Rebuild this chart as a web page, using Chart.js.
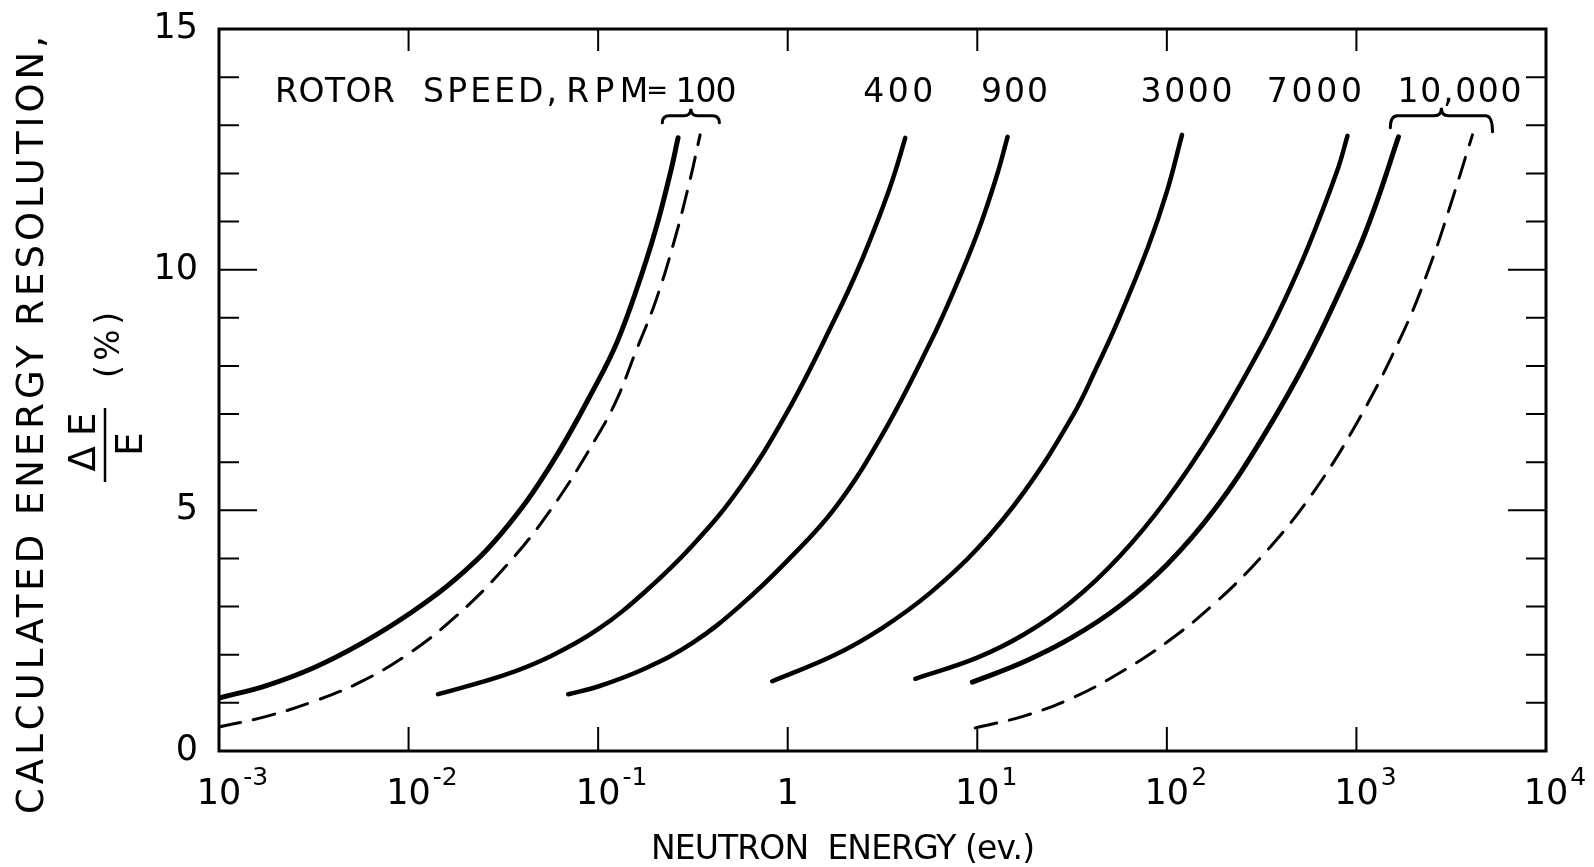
<!DOCTYPE html>
<html>
<head>
<meta charset="utf-8">
<script src="https://cdn.jsdelivr.net/npm/chart.js@4.4.1/dist/chart.umd.min.js"></script>
<style>
  html, body { margin: 0; padding: 0; background: #fff; }
  canvas { display: block; }
</style>
</head>
<body>
<canvas id="chart" width="1594" height="867"></canvas>
<script>
// neutron energy (eV) and resolution (%)
var rpm100E = [0.001, 0.00178, 0.00316, 0.00562, 0.01, 0.0178, 0.0316, 0.0562, 0.1, 0.126, 0.158, 0.2, 0.24, 0.264];
var rpm100Res = [1.10, 1.36, 1.73, 2.23, 2.84, 3.58, 4.57, 5.94, 7.69, 8.50, 9.54, 10.80, 12.00, 12.74];

var rpm100DashE = [0.001, 0.00178, 0.00316, 0.00562, 0.01, 0.0178, 0.0316, 0.0562, 0.1, 0.126, 0.158, 0.2, 0.251, 0.305, 0.345];
var rpm100DashRes = [0.50, 0.72, 1.03, 1.44, 2.02, 2.80, 3.78, 5.01, 6.57, 7.32, 8.30, 9.32, 10.57, 11.86, 12.80];

var rpm400E = [0.0143, 0.0316, 0.0562, 0.1, 0.178, 0.316, 0.562, 1.0, 1.778, 2.371, 3.162, 3.63, 4.17];
var rpm400Res = [1.18, 1.57, 1.97, 2.53, 3.32, 4.28, 5.48, 7.06, 8.99, 10.05, 11.28, 11.95, 12.74];

var rpm900E = [0.0695, 0.1, 0.178, 0.316, 0.562, 1.0, 1.778, 3.162, 5.623, 7.50, 10, 12.6, 14.45];
var rpm900Res = [1.18, 1.34, 1.72, 2.25, 3.02, 3.96, 5.05, 6.58, 8.47, 9.55, 10.75, 11.92, 12.76];

var rpm3000E = [0.828, 1.778, 3.162, 5.623, 10, 17.78, 31.62, 42.17, 56.23, 79.4, 100, 120.2];
var rpm3000Res = [1.45, 2.00, 2.56, 3.28, 4.20, 5.40, 6.94, 7.93, 9.01, 10.46, 11.62, 12.80];

var rpm7000E = [4.71, 10, 17.78, 31.62, 56.23, 100, 177.8, 316.2, 421.7, 562.3, 794, 897];
var rpm7000Res = [1.50, 1.94, 2.43, 3.11, 4.04, 5.23, 6.69, 8.41, 9.40, 10.52, 12.07, 12.78];

var rpm10000E = [9.42, 17.78, 31.62, 56.23, 100, 177.8, 316.2, 562.3, 1000, 1259, 1667];
var rpm10000Res = [1.43, 1.86, 2.36, 3.01, 3.87, 5.01, 6.48, 8.22, 10.32, 11.33, 12.76];

var rpm10000DashE = [9.75, 17.78, 31.62, 56.23, 100, 177.8, 316.2, 562.3, 1000, 1778, 2512, 3162, 4093];
var rpm10000DashRes = [0.48, 0.73, 1.10, 1.62, 2.26, 3.06, 4.04, 5.25, 6.80, 8.73, 10.21, 11.39, 12.80];

// axes
var xTicks = [1e-3, 1e-2, 1e-1, 1, 1e1, 1e2, 1e3, 1e4];
var xTickBase = ['10', '10', '10', '1', '10', '10', '10', '10'];
var xTickExp = ['-3', '-2', '-1', '', '1', '2', '3', '4'];
var yTicks = [0, 1, 2, 3, 4, 5, 6, 7, 8, 9, 10, 11, 12, 13, 14, 15];

// curve labels
var speedLabels = ['100', '400', '900', '3000', '7000', '10,000'];
var speedLabelE = [0.371, 3.83, 15.7, 127, 600, 3500];

var FONT = '"DejaVu Sans"';

function pts(xs, ys) {
    return xs.map(function(v, i) { return { x: v, y: ys[i] }; });
}

function curve(xs, ys, width, dashed) {
    return {
        data: pts(xs, ys),
        borderColor: '#000',
        borderWidth: width,
        borderDash: dashed ? [22, 13] : [],
        borderCapStyle: 'round',
        borderJoinStyle: 'round',
        pointRadius: 0,
        fill: false,
        tension: 0.4
    };
}

// text with letter spacing stretched to a given width
function spaced(ctx, text, x, y, width, align) {
    ctx.letterSpacing = '0px';
    var w0 = ctx.measureText(text).width;
    if (!width) width = w0;
    var sp = text.length > 1 ? (width - w0) / (text.length - 1) : 0;
    ctx.letterSpacing = sp + 'px';
    ctx.textAlign = 'left';
    var x0 = align === 'center' ? x - width / 2 : (align === 'right' ? x - width : x);
    ctx.fillText(text, x0, y);
    ctx.letterSpacing = '0px';
}

function brace(ctx, x1, x2, yl, h1, h2, tip) {
    var xm = (x1 + x2) / 2, r = 7;
    ctx.beginPath();
    ctx.moveTo(x1, yl + h1);
    ctx.quadraticCurveTo(x1, yl, x1 + r, yl);
    ctx.lineTo(xm - r, yl);
    ctx.quadraticCurveTo(xm, yl, xm, yl - tip);
    ctx.quadraticCurveTo(xm, yl, xm + r, yl);
    ctx.lineTo(x2 - r, yl);
    ctx.quadraticCurveTo(x2, yl, x2, yl + h2);
    ctx.stroke();
}

var decor = {
    id: 'decor',
    afterDraw: function(chart) {
        var ctx = chart.ctx, a = chart.chartArea;
        var xs = chart.scales.x, ys = chart.scales.y;
        ctx.save();
        ctx.strokeStyle = '#000';
        ctx.fillStyle = '#000';
        ctx.lineCap = 'butt';

        // frame
        ctx.lineWidth = 3;
        ctx.strokeRect(a.left, a.top, a.right - a.left, a.bottom - a.top);

        // inward ticks
        ctx.lineWidth = 2;
        ys.ticks.forEach(function(t) {
            if (t.value <= 0 || t.value >= 15) return;
            var py = ys.getPixelForValue(t.value);
            var len = t.value % 5 === 0 ? 38 : 20;
            ctx.beginPath();
            ctx.moveTo(a.left, py); ctx.lineTo(a.left + len, py);
            ctx.moveTo(a.right, py); ctx.lineTo(a.right - len, py);
            ctx.stroke();
        });
        xs.ticks.forEach(function(t, i) {
            if (i === 0 || i === xs.ticks.length - 1) return;
            var px = xs.getPixelForValue(t.value);
            ctx.beginPath();
            ctx.moveTo(px, a.top); ctx.lineTo(px, a.top + 22);
            ctx.moveTo(px, a.bottom); ctx.lineTo(px, a.bottom - 24);
            ctx.stroke();
        });

        // x tick labels with superscripts
        ctx.textBaseline = 'alphabetic';
        xs.ticks.forEach(function(t, i) {
            var px = xs.getPixelForValue(t.value);
            ctx.font = '35px ' + FONT;
            ctx.textAlign = 'center';
            var base = xTickBase[i];
            var bw = ctx.measureText(base).width;
            ctx.fillText(base, px, a.bottom + 53);
            if (xTickExp[i]) {
                ctx.font = '25px ' + FONT;
                ctx.textAlign = 'left';
                ctx.fillText(xTickExp[i], px + bw / 2 + 2, a.bottom + 34);
            }
        });

        // rpm labels
        var ly = ys.getPixelForValue(13.48);
        ctx.font = '33px ' + FONT;
        spaced(ctx, 'ROTOR', xs.getPixelForValue(0.001975), ly, 120, 'left');
        spaced(ctx, 'SPEED,', xs.getPixelForValue(0.01193), ly, 134, 'left');
        spaced(ctx, 'RPM', xs.getPixelForValue(0.0678), ly, 82, 'left');
        ctx.font = '26px ' + FONT;
        spaced(ctx, '=', xs.getPixelForValue(0.2048), ly - 3, 0, 'center');
        ctx.font = '33px ' + FONT;
        var widths = [61, 70, 67, 92, 95, 124];
        speedLabels.forEach(function(s, i) {
            spaced(ctx, s, xs.getPixelForValue(speedLabelE[i]), ly, widths[i], 'center');
        });

        // braces
        ctx.lineWidth = 3;
        ctx.lineCap = 'round';
        brace(ctx, xs.getPixelForValue(0.218), xs.getPixelForValue(0.436), ys.getPixelForValue(13.2), 7, 7, 7);
        brace(ctx, xs.getPixelForValue(1510), xs.getPixelForValue(5220), ys.getPixelForValue(13.2), 12, 16, 8);

        // x axis title
        ctx.font = '33px ' + FONT;
        spaced(ctx, 'NEUTRON  ENERGY (ev.)', 651, 859, 384, 'left');

        // y axis title (rotated)
        ctx.save();
        ctx.translate(43, 425);
        ctx.rotate(-Math.PI / 2);
        ctx.font = '37px ' + FONT;
        spaced(ctx, 'CALCULATED ENERGY RESOLUTION,', 0, 0, 778, 'center');
        ctx.restore();

        ctx.save();
        ctx.translate(95, 442);
        ctx.rotate(-Math.PI / 2);
        ctx.font = '37px ' + FONT;
        spaced(ctx, '\u0394E', 0, 0, 59, 'center');
        ctx.restore();

        ctx.lineWidth = 2.5;
        ctx.lineCap = 'butt';
        ctx.beginPath();
        ctx.moveTo(105, 408); ctx.lineTo(105, 482);
        ctx.stroke();

        ctx.save();
        ctx.translate(142, 444);
        ctx.rotate(-Math.PI / 2);
        ctx.font = '37px ' + FONT;
        spaced(ctx, 'E', 0, 0, 0, 'center');
        ctx.restore();

        ctx.save();
        ctx.translate(119, 345);
        ctx.rotate(-Math.PI / 2);
        ctx.font = '33px ' + FONT;
        spaced(ctx, '(%)', 0, 0, 66, 'center');
        ctx.restore();

        ctx.restore();
    }
};

var ctx = document.getElementById('chart');
var chart = new Chart(ctx, {
    type: 'line',
    data: {
        datasets: [
            curve(rpm100E, rpm100Res, 5, false),
            curve(rpm100DashE, rpm100DashRes, 3, true),
            curve(rpm400E, rpm400Res, 4.5, false),
            curve(rpm900E, rpm900Res, 4.5, false),
            curve(rpm3000E, rpm3000Res, 4.5, false),
            curve(rpm7000E, rpm7000Res, 4.5, false),
            curve(rpm10000E, rpm10000Res, 5, false),
            curve(rpm10000DashE, rpm10000DashRes, 3, true)
        ]
    },
    options: {
        responsive: false,
        animation: false,
        layout: { padding: { left: 0, right: 48, top: 29, bottom: 0 } },
        plugins: { legend: { display: false }, tooltip: { enabled: false } },
        scales: {
            x: {
                type: 'logarithmic',
                min: 1e-3,
                max: 1e4,
                grid: { display: false },
                border: { display: false },
                ticks: { display: false },
                afterBuildTicks: function(axis) {
                    axis.ticks = xTicks.map(function(v) { return { value: v }; });
                },
                afterFit: function(axis) {
                    axis.height = 116;
                    axis.paddingLeft = 0; axis.paddingRight = 0;
                }
            },
            y: {
                min: 0,
                max: 15,
                grid: { display: false, drawTicks: false },
                border: { display: false },
                ticks: {
                    color: '#000',
                    padding: 21,
                    font: { family: 'DejaVu Sans', size: 35 },
                    callback: function(v) { return v % 5 === 0 ? String(v) : ''; }
                },
                afterBuildTicks: function(axis) {
                    axis.ticks = yTicks.map(function(v) { return { value: v }; });
                },
                afterFit: function(axis) {
                    axis.width = 219;
                    axis.paddingTop = 0; axis.paddingBottom = 0;
                }
            }
        }
    },
    plugins: [decor]
});
</script>
</body>
</html>
